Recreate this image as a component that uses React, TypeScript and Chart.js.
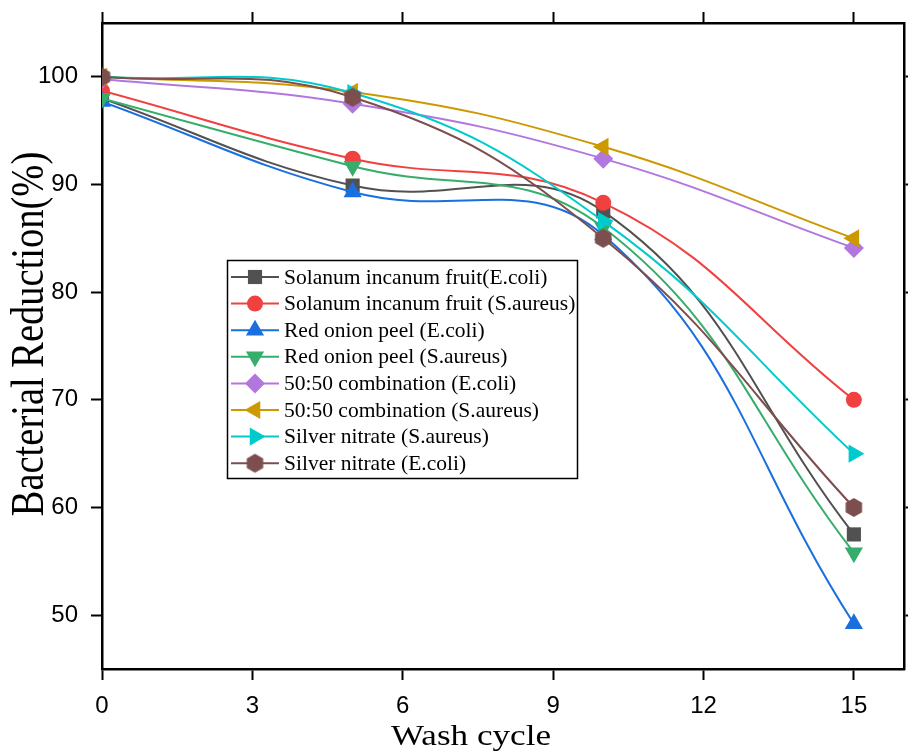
import React, { useEffect, useRef } from 'react';
import { Chart, registerables } from 'chart.js';

Chart.register(...registerables);

// ---------- data ----------
const washCycles = [0, 5, 10, 15];

const seriesNames = [
  'Solanum incanum fruit(E.coli)',
  'Solanum incanum fruit (S.aureus)',
  'Red onion peel (E.coli)',
  'Red onion peel (S.aureus)',
  '50:50 combination (E.coli)',
  '50:50 combination (S.aureus)',
  'Silver nitrate (S.aureus)',
  'Silver nitrate (E.coli)',
];

const solanumEcoli = [98.0, 89.9, 87.5, 57.5];
const solanumSaureus = [98.7, 92.4, 88.3, 70.0];
const onionEcoli = [97.7, 89.3, 85.3, 49.2];
const onionSaureus = [98.0, 91.7, 86.0, 55.8];
const comboEcoli = [99.8, 97.5, 92.4, 84.1];
const comboSaureus = [100.0, 98.6, 93.5, 85.0];
const silverSaureus = [100.0, 98.5, 86.6, 65.0];
const silverEcoli = [100.0, 98.1, 85.0, 60.0];

const seriesValues = [
  solanumEcoli,
  solanumSaureus,
  onionEcoli,
  onionSaureus,
  comboEcoli,
  comboSaureus,
  silverSaureus,
  silverEcoli,
];

const seriesColors = ['#515151', '#F14040', '#1A6FDF', '#37AD6B', '#B177DE', '#CC9900', '#00CBCC', '#7D4E4E'];

const xTickValues = [0, 3, 6, 9, 12, 15];
const yTickValues = [50, 60, 70, 80, 90, 100];

const xTitle = 'Wash cycle';
const yTitle = 'Bacterial Reduction(%)';

// ---------- markers ----------
type Marker = { style: string; rotation: number; radius: number };
const markers: Marker[] = [
  { style: 'rect', rotation: 0, radius: 10 },
  { style: 'circle', rotation: 0, radius: 8 },
  { style: 'triangle', rotation: 0, radius: 10.5 },
  { style: 'triangle', rotation: 180, radius: 10.5 },
  { style: 'rectRot', rotation: 0, radius: 10 },
  { style: 'triangle', rotation: -90, radius: 10.5 },
  { style: 'triangle', rotation: 90, radius: 10.5 },
  { style: 'hexagon', rotation: 0, radius: 9.5 },
];

function makeHexagon(color: string, r: number): HTMLCanvasElement {
  const c = document.createElement('canvas');
  const s = Math.ceil(r * 2) + 2;
  c.width = s;
  c.height = s;
  const ctx = c.getContext('2d')!;
  ctx.beginPath();
  for (let i = 0; i < 6; i++) {
    const a = -Math.PI / 2 + (i * Math.PI) / 3;
    const px = s / 2 + r * Math.cos(a);
    const py = s / 2 + r * Math.sin(a);
    if (i === 0) ctx.moveTo(px, py);
    else ctx.lineTo(px, py);
  }
  ctx.closePath();
  ctx.fillStyle = color;
  ctx.fill();
  return c;
}

function drawMarker(ctx: CanvasRenderingContext2D, m: Marker, x: number, y: number, color: string, img?: HTMLCanvasElement) {
  ctx.save();
  ctx.fillStyle = color;
  ctx.beginPath();
  const rad = (m.rotation * Math.PI) / 180;
  const r = m.radius;
  if (m.style === 'circle') {
    ctx.arc(x, y, r, 0, Math.PI * 2);
  } else if (m.style === 'rect') {
    const s = Math.SQRT1_2 * r;
    ctx.rect(x - s, y - s, 2 * s, 2 * s);
  } else if (m.style === 'rectRot') {
    ctx.moveTo(x, y - r);
    ctx.lineTo(x + r, y);
    ctx.lineTo(x, y + r);
    ctx.lineTo(x - r, y);
  } else if (m.style === 'triangle') {
    for (let k = 0; k < 3; k++) {
      const a = rad + (k * 2 * Math.PI) / 3;
      const px = x + Math.sin(a) * r;
      const py = y - Math.cos(a) * r;
      if (k === 0) ctx.moveTo(px, py);
      else ctx.lineTo(px, py);
    }
  } else if (img) {
    ctx.drawImage(img, x - img.width / 2, y - img.height / 2);
    ctx.restore();
    return;
  }
  ctx.closePath();
  ctx.fill();
  ctx.restore();
}

export default function App() {
  const ref = useRef<HTMLCanvasElement | null>(null);

  useEffect(() => {
    document.body.style.margin = '0';
    const canvas = ref.current;
    if (!canvas) return;

    const hexImg = makeHexagon(seriesColors[7], markers[7].radius);

    const datasets = seriesNames.map((name, i) => ({
      label: name,
      data: washCycles.map((xv, j) => ({ x: xv, y: seriesValues[i][j] })),
      borderColor: seriesColors[i],
      backgroundColor: seriesColors[i],
      borderWidth: 2,
      tension: 0.42,
      pointStyle: markers[i].style === 'hexagon' ? hexImg : markers[i].style,
      pointRotation: markers[i].rotation,
      pointRadius: markers[i].radius,
      pointHoverRadius: markers[i].radius,
      pointBorderWidth: 0,
      pointBackgroundColor: seriesColors[i],
      pointBorderColor: seriesColors[i],
      xAxisID: 'x',
      yAxisID: 'y',
      order: seriesNames.length - i,
    }));

    const legendPlugin = {
      id: 'insideLegend',
      afterDatasetsDraw(chart: any) {
        const { ctx, scales } = chart;
        const left = Math.round(scales.x.getPixelForValue(2.5));
        const top = Math.round(scales.y.getPixelForValue(83));
        const w = 350;
        const h = 218;
        ctx.save();
        ctx.fillStyle = '#ffffff';
        ctx.fillRect(left, top, w, h);
        ctx.strokeStyle = '#000';
        ctx.lineWidth = 1.5;
        ctx.strokeRect(left + 0.5, top + 0.5, w, h);
        ctx.font = '21.5px "Liberation Serif"';
        ctx.textBaseline = 'middle';
        ctx.textAlign = 'left';
        seriesNames.forEach((name, i) => {
          const cy = top + 17 + i * 26.6;
          ctx.strokeStyle = seriesColors[i];
          ctx.lineWidth = 2;
          ctx.beginPath();
          ctx.moveTo(left + 4, cy);
          ctx.lineTo(left + 52, cy);
          ctx.stroke();
          drawMarker(ctx, markers[i], left + 28, cy, seriesColors[i], hexImg);
          ctx.fillStyle = '#000';
          ctx.fillText(name, left + 57, cy + 1);
        });
        ctx.restore();
      },
    };

    const titlePlugin = {
      id: 'axisTitles',
      afterDraw(chart: any) {
        const { ctx } = chart;
        ctx.save();
        ctx.fillStyle = '#000';
        ctx.textAlign = 'center';
        ctx.textBaseline = 'alphabetic';
        // x title
        ctx.save();
        ctx.font = '30px "Liberation Serif"';
        ctx.translate(471, 745);
        ctx.scale(1.17, 1);
        ctx.fillText(xTitle, 0, 0);
        ctx.restore();
        // y title
        ctx.save();
        ctx.font = '38.5px "Liberation Serif"';
        ctx.translate(43, 334);
        ctx.scale(1.18, 1);
        ctx.rotate(-Math.PI / 2);
        ctx.fillText(yTitle, 0, 0);
        ctx.restore();
        ctx.restore();
      },
    };

    const tickFont = { family: '"Liberation Sans", Arial, sans-serif', size: 24 };
    const gridOpts = {
      drawOnChartArea: false,
      drawTicks: true,
      tickLength: 11,
      tickWidth: 2,
      tickColor: '#000',
    };
    const borderOpts = { display: true, color: '#000', width: 2.5 };
    const noPadX = (s: any, h: number) => {
      s.height = h;
      s.paddingLeft = 0;
      s.paddingRight = 0;
    };
    const noPadY = (s: any, w: number) => {
      s.width = w;
      s.paddingTop = 0;
      s.paddingBottom = 0;
    };

    const chart = new Chart(canvas, {
      type: 'line',
      data: { datasets },
      plugins: [legendPlugin, titlePlugin],
      options: {
        animation: false,
        responsive: false,
        devicePixelRatio: 1,
        layout: { padding: 0, autoPadding: false },
        plugins: { legend: { display: false }, tooltip: { enabled: false } },
        scales: {
          x: {
            type: 'linear',
            position: 'bottom',
            min: 0,
            max: 16,
            afterBuildTicks: (s: any) => {
              s.ticks = xTickValues.map((v) => ({ value: v }));
            },
            afterFit: (s: any) => noPadX(s, 86),
            ticks: { font: tickFont, color: '#000', padding: 12, autoSkip: false, maxRotation: 0 },
            grid: gridOpts,
            border: borderOpts,
          },
          x2: {
            type: 'linear',
            position: 'top',
            min: 0,
            max: 16,
            afterBuildTicks: (s: any) => {
              s.ticks = xTickValues.map((v) => ({ value: v }));
            },
            afterFit: (s: any) => noPadX(s, 23),
            ticks: { display: false },
            grid: gridOpts,
            border: borderOpts,
          },
          y: {
            type: 'linear',
            position: 'left',
            min: 45,
            max: 105,
            afterBuildTicks: (s: any) => {
              s.ticks = yTickValues.map((v) => ({ value: v }));
            },
            afterFit: (s: any) => noPadY(s, 102),
            ticks: { font: tickFont, color: '#000', padding: 13 },
            grid: gridOpts,
            border: borderOpts,
          },
          y2: {
            type: 'linear',
            position: 'right',
            min: 45,
            max: 105,
            afterBuildTicks: (s: any) => {
              s.ticks = yTickValues.map((v) => ({ value: v }));
            },
            afterFit: (s: any) => noPadY(s, 4),
            ticks: { display: false },
            grid: gridOpts,
            border: borderOpts,
          },
        },
      },
    } as any);

    return () => {
      chart.destroy();
    };
  }, []);

  return <canvas ref={ref} width={908} height={755} style={{ display: 'block', width: 908, height: 755 }} />;
}
